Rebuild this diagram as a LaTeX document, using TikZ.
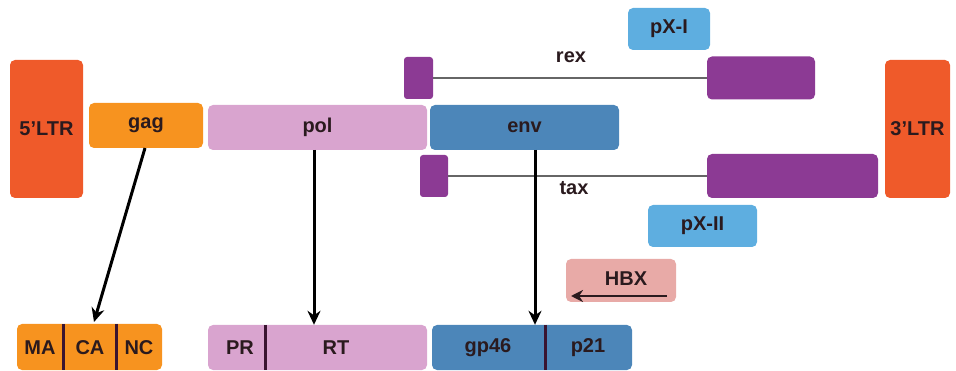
\documentclass[tikz,border=0pt]{standalone}
\usepackage{fontspec}
\setmainfont{Liberation Sans}
\usetikzlibrary{arrows.meta}
\definecolor{ltrc}{HTML}{EF5A2A}
\definecolor{gagc}{HTML}{F7931F}
\definecolor{polc}{HTML}{D9A4CF}
\definecolor{envc}{HTML}{4C86B9}
\definecolor{purc}{HTML}{8C3A94}
\definecolor{pxc}{HTML}{5EAEE0}
\definecolor{hbxc}{HTML}{E8AAA7}
\definecolor{txtc}{HTML}{2A1A1E}
\definecolor{divc}{HTML}{3A1430}
\tikzset{
  gbox/.style={rounded corners=5pt, inner sep=0pt, draw=none, font=\fontsize{20}{23}\selectfont\bfseries, text=txtc},
  lbl/.style={inner sep=0pt, font=\fontsize{20}{23}\selectfont\bfseries, text=txtc},
  thin line/.style={draw=black!60, line width=2pt},
  divider/.style={draw=divc, line width=3pt},
  maparrow/.style={draw=black, line width=3pt, -{Stealth[length=14pt,width=13pt]}}
}
\begin{document}
\begin{tikzpicture}[x=1pt,y=-1pt]
\useasboundingbox (0,0) rectangle (956,371);
% genome
\node[gbox, fill=ltrc, minimum width=73pt, minimum height=138pt] (ltr5) at (46.5,129) {5'LTR};
\node[gbox, fill=gagc, minimum width=114pt, minimum height=45pt] (gag) at (146,125.5) {gag};
\node[gbox, fill=polc, minimum width=219pt, minimum height=45pt] (pol) at (317.5,127.5) {pol};
\node[gbox, fill=envc, minimum width=189pt, minimum height=45pt] (env) at (524.5,127.5) {env};
\node[gbox, fill=ltrc, minimum width=65pt, minimum height=138pt] (ltr3) at (917.5,129) {3'LTR};
% rex
\node[gbox, fill=purc, rounded corners=3pt, minimum width=29pt, minimum height=42pt] (rex1) at (418.5,78) {};
\node[gbox, fill=purc, minimum width=108pt, minimum height=43pt] (rex2) at (761,78) {};
\draw[thin line] (rex1.east) -- (rex2.west);
\node[lbl] (rexl) at (571,57) {rex};
% tax
\node[gbox, fill=purc, rounded corners=3pt, minimum width=28pt, minimum height=42pt] (tax1) at (434,176) {};
\node[gbox, fill=purc, minimum width=171pt, minimum height=44pt] (tax2) at (792.5,176) {};
\draw[thin line] (tax1.east) -- (tax2.west);
\node[lbl] (taxl) at (574,188) {tax};
% pX
\node[gbox, fill=pxc, minimum width=82pt, minimum height=42pt] (px1) at (669,29) {pX-I};
\node[gbox, fill=pxc, minimum width=109pt, minimum height=42pt] (px2) at (702.5,226) {pX-II};
% HBX
\node[gbox, fill=hbxc, minimum width=110pt, minimum height=43pt] (hbx) at (621,280.5) {};
\node[lbl] (hbxl) at (626,279) {HBX};
\coordinate (h1) at (667,296);
\coordinate (h2) at (571,296);
\draw[draw=txtc, line width=2.8pt, -{Stealth[length=12pt,width=12pt]}] (h1) -- (h2);
% products
\node[gbox, fill=gagc, minimum width=145pt, minimum height=46pt] (gagp) at (89.5,347) {};
\node[lbl] (ma) at (40,348) {MA};
\node[lbl] (ca) at (90,348) {CA};
\node[lbl] (nc) at (139,348) {NC};
\coordinate (d1) at (63,347);
\coordinate (d2) at (116,347);
\draw[divider] (gagp.north -| d1) -- (gagp.south -| d1);
\draw[divider] (gagp.north -| d2) -- (gagp.south -| d2);

\node[gbox, fill=polc, minimum width=219pt, minimum height=45pt] (polp) at (317.5,347.5) {};
\node[lbl] (pr) at (240,348) {PR};
\node[lbl] (rt) at (336,348) {RT};
\coordinate (d3) at (265,347);
\draw[divider] (polp.north -| d3) -- (polp.south -| d3);

\node[gbox, fill=envc, minimum width=200pt, minimum height=45pt] (envp) at (532,347.5) {};
\node[lbl] (gp) at (488,348) {gp46};
\node[lbl] (p21) at (588,348) {p21};
\coordinate (d4) at (545,347);
\draw[divider] (envp.north -| d4) -- (envp.south -| d4);
% arrows
\coordinate (ga) at (145,148);
\coordinate (gb) at (94,322);
\draw[maparrow] (ga) -- (gb);
\coordinate (pa) at (314,150);
\draw[maparrow] (pa) -- (pa |- polp.north);
\coordinate (ea) at (535,150);
\draw[maparrow] (ea) -- (ea |- envp.north);
\end{tikzpicture}
\end{document}
